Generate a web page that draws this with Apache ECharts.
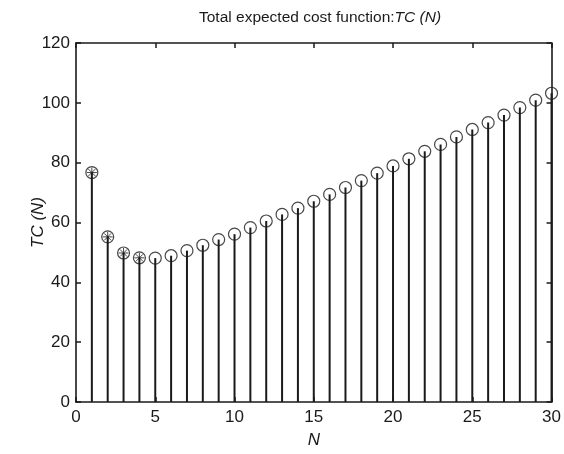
<!DOCTYPE html>
<html><head><meta charset="utf-8">
<script src="https://cdn.jsdelivr.net/npm/echarts@6/dist/echarts.min.js"></script>
<style>html,body{margin:0;padding:0;background:#fff}#c{width:564px;height:454px}</style>
</head><body><div id="c"></div>
<script>
var N = [1,2,3,4,5,6,7,8,9,10,11,12,13,14,15,16,17,18,19,20,21,22,23,24,25,26,27,28,29,30];
var TC = [76.7,55.2,49.8,48.2,48.1,48.9,50.6,52.4,54.3,56.1,58.3,60.5,62.7,64.8,67.1,69.4,71.7,74.0,76.5,78.9,81.3,83.8,86.1,88.6,91.1,93.4,95.9,98.4,100.9,103.2];
var starN = [1,2,3,4];
var xTicks = [0,5,10,15,20,25,30];
var yTicks = [0,20,40,60,80,100,120];

var stemData = N.map(function(n,i){return [n, TC[i]];});
var starData = starN.map(function(n){return [n, TC[N.indexOf(n)]];});
var font = 'Liberation Sans, Arial, sans-serif';
var txt = '#1a1a1a';
var axisLine = {show:true, onZero:false, lineStyle:{color:'#1a1a1a', width:1.6}};
var tick = {show:true,inside:true,length:5,lineStyle:{color:'#1a1a1a',width:1.5}};
var chart = echarts.init(document.getElementById('c'));
chart.setOption({
  animation:false,
  backgroundColor:'#fff',
  title:{
    text:'{n|Total expected cost function:}{i|TC (N)}',
    left:315, textAlign:'center', top:5,
    textStyle:{fontWeight:'normal', rich:{
      n:{fontFamily:font,fontSize:15.5,color:txt,fontWeight:'normal'},
      i:{fontFamily:font,fontSize:15.5,color:txt,fontStyle:'italic',fontWeight:'normal'}
    }}
  },
  grid:{left:76,right:11,top:43,bottom:51},
  xAxis:[{
    type:'value', min:xTicks[0], max:xTicks[xTicks.length-1], interval:5,
    axisLine:axisLine, axisTick:tick, splitLine:{show:false},
    axisLabel:{fontFamily:font,fontSize:17,color:txt,margin:7},
    name:'N', nameLocation:'middle', nameGap:30, nameMoveOverlap:false,
    nameTextStyle:{fontFamily:font,fontSize:17,color:txt,fontStyle:'italic'}
  },{
    type:'value', position:'top', min:0, max:30, interval:5,
    axisLine:axisLine, axisTick:tick, axisLabel:{show:false}, splitLine:{show:false}
  }],
  yAxis:[{
    type:'value', min:yTicks[0], max:yTicks[yTicks.length-1], interval:20,
    axisLine:axisLine, axisTick:tick, splitLine:{show:false},
    axisLabel:{fontFamily:font,fontSize:17,color:txt,margin:6},
    name:'TC (N)', nameLocation:'middle', nameGap:29, nameMoveOverlap:false,
    nameTextStyle:{fontFamily:font,fontSize:17,color:txt,fontStyle:'italic'}
  },{
    type:'value', position:'right', min:0, max:120, interval:20,
    axisLine:axisLine, axisTick:tick, axisLabel:{show:false}, splitLine:{show:false}
  }],
  series:[{
    type:'bar', data:stemData, barWidth:2, itemStyle:{color:'#1a1a1a'}, z:2, silent:true
  },{
    type:'scatter', data:stemData, symbol:'circle', symbolSize:12,
    itemStyle:{color:'rgba(0,0,0,0)', borderColor:'#1a1a1a', borderWidth:1.2}, z:3, silent:true
  },{
    type:'scatter', data:starData,
    symbol:'path://M0,-5L0,5M-5,0L5,0M-3.5,-3.5L3.5,3.5M-3.5,3.5L3.5,-3.5',
    symbolSize:10,
    itemStyle:{color:'rgba(0,0,0,0)', borderColor:'#1a1a1a', borderWidth:1}, z:4, silent:true
  }]
});
</script></body></html>
